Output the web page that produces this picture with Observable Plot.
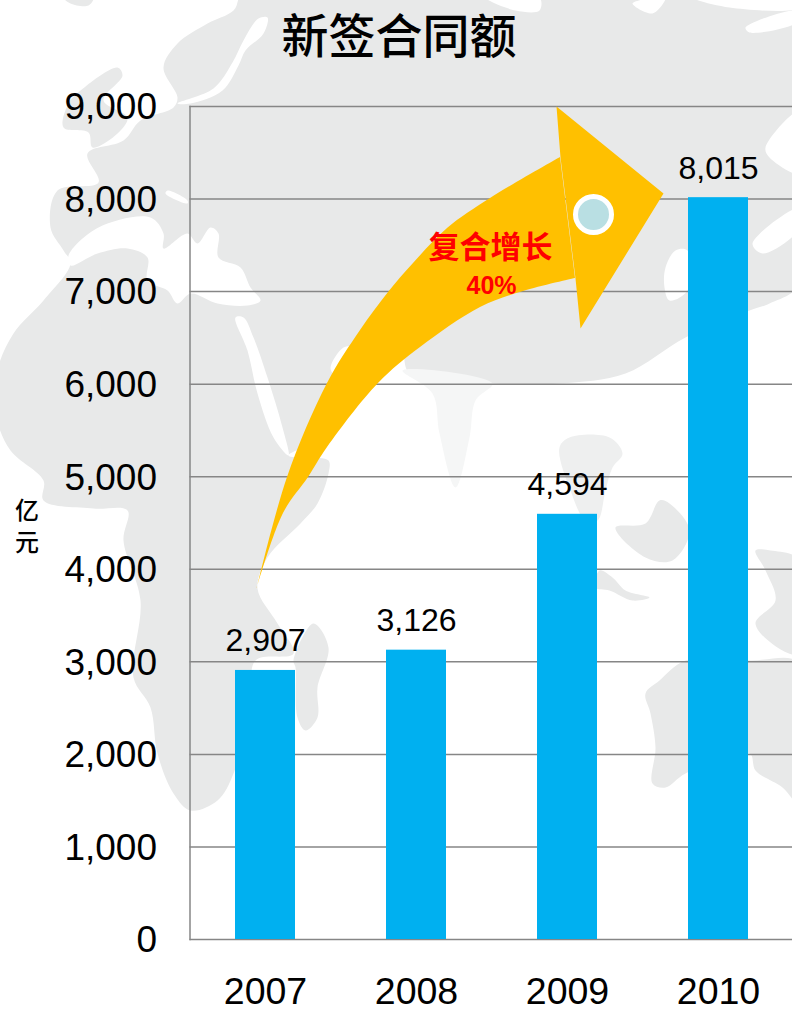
<!DOCTYPE html>
<html lang="zh">
<head>
<meta charset="utf-8">
<title>新签合同额</title>
<script src="https://cdn.jsdelivr.net/npm/d3@7"></script>
<script src="https://cdn.jsdelivr.net/npm/@observablehq/plot@0.6"></script>
<style>
  html, body { margin: 0; padding: 0; background: #fff; }
  #page { position: relative; width: 792px; height: 1012px; overflow: hidden; }
  #page svg { position: absolute; left: 0; top: 0; background: transparent; }
  #title { position: absolute; left: 281px; top: 2px; width: 236px; text-align: center; white-space: nowrap;
           font: 500 47px/62px "Noto Sans CJK SC", sans-serif; color: #000; z-index: 5; }
  #unit { position: absolute; left: 12px; top: 493px; width: 30px; text-align: center;
          font: 500 24px/32px "Noto Sans CJK SC", sans-serif; color: #000; z-index: 5; }
</style>
</head>
<body>
<div id="page">
  <div id="title">新签合同额</div>
  <div id="unit">亿<br>元</div>
</div>
<script>
// Contract values per year (100 million yuan)
const years = ["2007", "2008", "2009", "2010"];
const amounts = [2907, 3126, 4594, 8015];
const yTicks = [0, 1000, 2000, 3000, 4000, 5000, 6000, 7000, 8000, 9000];
const growthLabel = "复合增长";
const growthRate = "40%";

// Backdrop world map outlines, on a 792 x 1012 sheet
const eurasiaAfrica = [[245,-10],[233,10],[207,23],[177,43],[163,67],[177,97],[173,107],[140,120],[123,140],[87,153],[98,182],[57,190],[50,227],[63,250],[70,263],[43,300],[13,333],[-4,373],[-4,417],[10,450],[43,480],[43,500],[93,508],[127,510],[123,540],[140,600],[133,677],[150,707],[157,753],[173,793],[190,810],[217,800],[233,773],[250,700],[255,660],[293,653],[277,623],[257,588],[267,557],[300,523],[317,503],[328,473],[328,460],[307,457],[288,455],[320,437],[347,403],[400,345],[409,373],[492,383],[559,383],[625,373],[685,337],[749,310],[769,303],[800,283],[810,120],[800,-10]];
const britain = [[63,127],[68,103],[80,90],[117,67],[122,75],[103,100],[127,117],[117,133],[92,147],[88,132]];
const iceland = [[63,-3],[93,-3],[88,5],[70,3]];
const madagascar = [[313,623],[328,647],[317,687],[317,717],[305,730],[297,717],[295,667],[293,660]];
const borneo = [[615,527],[645,523],[659,500],[669,503],[689,530],[672,560],[645,557]];
const sumatraJava = [[599,570],[612,577],[625,590],[649,597],[632,600],[609,590],[595,587]];
const newGuinea = [[755,550],[770,550],[800,560],[800,653],[782,650],[755,623],[775,600],[765,570]];
const australia = [[685,660],[749,660],[800,663],[800,805],[782,787],[755,770],[749,753],[685,773],[665,787],[652,783],[655,747],[650,713],[645,693],[659,680]];
const india = [[402,370],[432,393],[439,433],[455,487],[469,437],[475,400],[492,383]];
const indochina = [[559,447],[569,437],[609,437],[622,453],[612,467],[605,490],[597,520],[585,520],[570,490]];

// Seas cut out of the land masses
const baltic = [[177,103],[213,88],[232,62],[243,40],[258,18],[267,17],[263,33],[245,50],[238,65],[222,90],[190,103]];
const channel = [[167,190],[187,200],[187,203],[165,193]];
const mediterranean = [[68,255],[98,227],[150,217],[163,233],[163,248],[187,233],[197,243],[210,227],[218,233],[218,257],[240,267],[250,287],[260,300],[247,305],[217,303],[190,293],[177,303],[167,290],[147,280],[147,257],[127,248],[97,253],[70,265]];
const redSea = [[235,317],[243,317],[253,337],[267,377],[282,427],[288,455],[273,437],[257,393],[247,350]];
const persianGulf = [[330,367],[343,347],[353,347],[340,360],[333,373]];
const yellowSea = [[665,267],[675,250],[687,250],[687,290],[669,300],[664,287]];
const seaOfJapan = [[752,243],[800,207],[800,227],[762,253]];
const okhotsk = [[765,147],[800,110],[800,173],[769,157]];
const arcticGaps = [
  [[632,3],[665,-3],[652,13]],
  [[745,27],[800,10],[800,20],[749,32]],
  [[692,-3],[800,-3],[800,7],[729,7]],
  [[485,-3],[539,-3],[539,10],[515,10]]
];

// Curved growth arrow: the shaft's two edges from tail to shoulder, then the head
const shaftOuter = [[256.7,588],[287,477],[327,383],[360,330],[388,292],[413,263],[447,228],[490,198],[560,157]];
const shaftInner = [[256.7,588],[283,513],[308,477],[327,447],[378,383],[420,347],[480,307],[523,291],[575,278]];
const arrowHead = [[560,157],[556,106],[663,193],[580,328],[575,278]];
const arrowBadge = [{x: 593, y: 214}];

const rings = (list) => list.flatMap((pts, i) => pts.map(([x, y]) => ({x, y, ring: i})));
const sheet = {
  width: 792, height: 1012, margin: 0,
  x: {domain: [0, 792], range: [0, 792]},
  y: {domain: [0, 1012], range: [0, 1012]},
  axis: null
};
const page = document.getElementById("page");
const coast = {x: "x", y: "y", z: "ring", stroke: "none", curve: "catmull-rom-closed"};

// Map layer
const mapLayer = Plot.plot({
  ...sheet,
  marks: [
    Plot.line(rings([eurasiaAfrica, britain, iceland, madagascar, borneo, sumatraJava, newGuinea, australia]),
      {...coast, fill: "#e8e9e9"}),
    Plot.line(rings([india]), {...coast, fill: "#f5f6f6"}),
    Plot.line(rings([indochina]), {...coast, fill: "#eeefef"}),
    Plot.line(rings([baltic, channel, mediterranean, redSea, persianGulf, yellowSea, seaOfJapan, okhotsk, ...arcticGaps]),
      {...coast, fill: "#ffffff"})
  ]
});

// Bar chart layer
const rows = years.map((year, i) => ({year, amount: amounts[i]}));
const chartLayer = Plot.plot({
  width: 792, height: 1012,
  marginLeft: 189.5, marginRight: 0, marginTop: 106, marginBottom: 73,
  style: {fontFamily: "'Liberation Sans', Arial, sans-serif", color: "#000"},
  x: {type: "band", domain: years, range: [189.5, 793.5], paddingInner: 0.6, paddingOuter: 0.3, align: 0.5, label: null},
  y: {domain: [0, 9000], range: [939, 106], label: null},
  marks: [
    Plot.ruleY(yTicks, {stroke: "#868686", strokeWidth: 1.5}),
    Plot.frame({anchor: "left", stroke: "#868686", strokeWidth: 1.5}),
    Plot.barY(rows, {x: "year", y: "amount", fill: "#00b0f0"}),
    Plot.text(rows, {x: "year", y: "amount", text: (d) => d3.format(",")(d.amount), lineAnchor: "bottom", dy: -19, fontSize: 32, fill: "#000"}),
    Plot.axisY({ticks: yTicks, tickFormat: d3.format(","), tickSize: 0, tickPadding: 33, fontSize: 37, dy: 1, fill: "#000", label: null}),
    Plot.axisX({tickSize: 0, tickPadding: 38, fontSize: 37.5, fill: "#000", label: null})
  ]
});

// Growth arrow layer
const arrowLayer = Plot.plot({
  ...sheet,
  marks: [
    Plot.area(shaftOuter.map((p, i) => ({a: p, b: shaftInner[i]})), {
      x1: (d) => d.a[0], y1: (d) => d.a[1], x2: (d) => d.b[0], y2: (d) => d.b[1],
      fill: "#ffc000", curve: "catmull-rom"
    }),
    Plot.line(arrowHead, {x: (d) => d[0], y: (d) => d[1], fill: "#ffc000", stroke: "none"}),
    Plot.dot(arrowBadge, {x: "x", y: "y", r: 18, fill: "#b9dfe3", stroke: "#ffffff", strokeWidth: 5}),
    Plot.text([growthLabel], {x: () => 490, y: () => 248, fontSize: 31, fontWeight: 700, fill: "#ff0000", fontFamily: "'Noto Sans CJK SC', sans-serif"}),
    Plot.text([growthRate], {x: () => 491, y: () => 285, fontSize: 25, fontWeight: 700, fill: "#ff0000", fontFamily: "'Liberation Sans', sans-serif"})
  ]
});

page.prepend(mapLayer);
page.append(chartLayer);
page.append(arrowLayer);
</script>
</body>
</html>
